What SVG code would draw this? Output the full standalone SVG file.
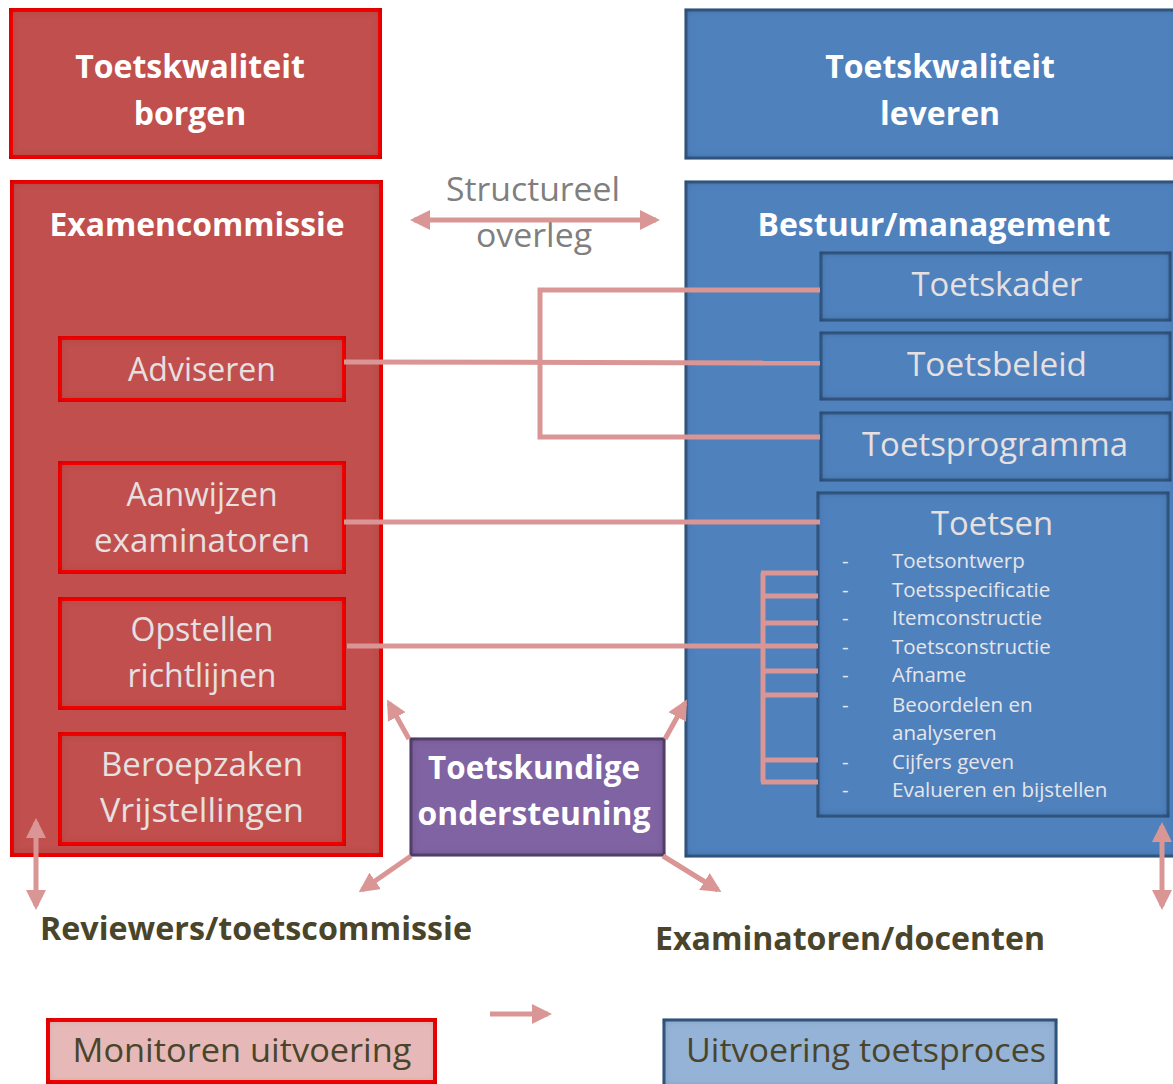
<svg xmlns="http://www.w3.org/2000/svg" width="1173" height="1084" viewBox="0 0 1173 1084">
<style>
text{font-family:"Open Sans","Liberation Sans",sans-serif;}
.red{fill:#c0504d;stroke:#ff0000;stroke-width:4;}
.blue{fill:#4f81bd;stroke:#385d8a;stroke-width:3;}
.purple{fill:#8064a2;stroke:#5c4776;stroke-width:3;}
.hdr{fill:#ffffff;font-weight:bold;font-size:32px;text-anchor:middle;}
.lbl{fill:#e6e0e0;font-size:32px;text-anchor:middle;}
.item{fill:#e6e6ea;font-size:20.5px;}
.dark{fill:#4a452a;font-weight:bold;font-size:32px;}
.con{stroke:#d99694;stroke-width:5;fill:none;}
.grey{fill:#7f7f7f;font-size:32px;text-anchor:middle;}
</style>
<defs>
<filter id="inset" x="-50%" y="-50%" width="200%" height="200%">
<feFlood flood-color="#000" flood-opacity="0.5"/>
<feComposite in2="SourceAlpha" operator="out"/>
<feGaussianBlur stdDeviation="4"/>
<feComposite in2="SourceAlpha" operator="in"/>
<feMerge><feMergeNode in="SourceGraphic"/><feMergeNode/></feMerge>
</filter>
<marker id="ah" viewBox="0 0 10 10" refX="8" refY="5" markerWidth="4" markerHeight="4" orient="auto-start-reverse" markerUnits="strokeWidth">
<path d="M0,0 L10,5 L0,10 Z" fill="#d99694"/>
</marker>
</defs>

<g id="borgen">
<rect class="red" x="11" y="10" width="369" height="147" filter="url(#inset)"/>
<text class="hdr" x="190" y="78">Toetskwaliteit</text>
<text class="hdr" x="190" y="125">borgen</text>
</g>
<g id="leveren">
<rect class="blue" x="686" y="10" width="490" height="148" filter="url(#inset)"/>
<text class="hdr" x="940" y="78">Toetskwaliteit</text>
<text class="hdr" x="940" y="125">leveren</text>
</g>

<g id="examencommissie">
<rect class="red" x="12" y="182" width="369" height="673" filter="url(#inset)"/>
<text class="hdr" x="197" y="236" textLength="295" lengthAdjust="spacingAndGlyphs">Examencommissie</text>
</g>
<g id="bestuur">
<rect class="blue" x="686" y="182" width="490" height="674" filter="url(#inset)"/>
<text class="hdr" x="934" y="236" textLength="353" lengthAdjust="spacingAndGlyphs">Bestuur/management</text>
</g>

<g id="adviseren">
<rect class="red" x="60" y="338" width="284" height="62" filter="url(#inset)"/>
<text class="lbl" x="202" y="381">Adviseren</text>
</g>
<g id="aanwijzen">
<rect class="red" x="60" y="463" width="284" height="109" filter="url(#inset)"/>
<text class="lbl" x="202" y="506">Aanwijzen</text>
<text class="lbl" x="202" y="552" textLength="216" lengthAdjust="spacingAndGlyphs">examinatoren</text>
</g>
<g id="opstellen">
<rect class="red" x="60" y="599" width="284" height="109" filter="url(#inset)"/>
<text class="lbl" x="202" y="641">Opstellen</text>
<text class="lbl" x="202" y="687">richtlijnen</text>
</g>
<g id="beroepzaken">
<rect class="red" x="60" y="734" width="284" height="110" filter="url(#inset)"/>
<text class="lbl" x="202" y="776" textLength="202" lengthAdjust="spacingAndGlyphs">Beroepzaken</text>
<text class="lbl" x="202" y="822" textLength="204" lengthAdjust="spacingAndGlyphs">Vrijstellingen</text>
</g>

<g id="toetskader">
<rect class="blue" x="821" y="253" width="349" height="67" filter="url(#inset)"/>
<text class="lbl" x="997" y="296" textLength="171" lengthAdjust="spacingAndGlyphs">Toetskader</text>
</g>
<g id="toetsbeleid">
<rect class="blue" x="821" y="333" width="349" height="66" filter="url(#inset)"/>
<text class="lbl" x="997" y="376" textLength="180" lengthAdjust="spacingAndGlyphs">Toetsbeleid</text>
</g>
<g id="toetsprogramma">
<rect class="blue" x="821" y="413" width="349" height="67" filter="url(#inset)"/>
<text class="lbl" x="995" y="456" textLength="266" lengthAdjust="spacingAndGlyphs">Toetsprogramma</text>
</g>
<g id="toetsen">
<rect class="blue" x="818" y="493" width="350" height="323" filter="url(#inset)"/>
<text class="lbl" x="992" y="535" textLength="122" lengthAdjust="spacingAndGlyphs">Toetsen</text>
<text class="item" x="842" y="568">-</text><text class="item" x="892" y="568">Toetsontwerp</text>
<text class="item" x="842" y="597">-</text><text class="item" x="892" y="597">Toetsspecificatie</text>
<text class="item" x="842" y="625">-</text><text class="item" x="892" y="625">Itemconstructie</text>
<text class="item" x="842" y="654">-</text><text class="item" x="892" y="654">Toetsconstructie</text>
<text class="item" x="842" y="682">-</text><text class="item" x="892" y="682">Afname</text>
<text class="item" x="842" y="712">-</text><text class="item" x="892" y="712">Beoordelen en</text>
<text class="item" x="892" y="740">analyseren</text>
<text class="item" x="842" y="769">-</text><text class="item" x="892" y="769">Cijfers geven</text>
<text class="item" x="842" y="797">-</text><text class="item" x="892" y="797">Evalueren en bijstellen</text>
</g>

<g id="ondersteuning">
<rect class="purple" x="411" y="739" width="253" height="116" filter="url(#inset)"/>
<text class="hdr" x="534" y="779" textLength="212" lengthAdjust="spacingAndGlyphs">Toetskundige</text>
<text class="hdr" x="534" y="825" textLength="233" lengthAdjust="spacingAndGlyphs">ondersteuning</text>
</g>

<g id="structureel">
<text class="grey" x="533" y="201" textLength="174" lengthAdjust="spacingAndGlyphs">Structureel</text>
<text class="grey" x="534" y="247" textLength="116" lengthAdjust="spacingAndGlyphs">overleg</text>
</g>

<g id="reviewers">
<text class="dark" x="40" y="940" textLength="432" lengthAdjust="spacingAndGlyphs">Reviewers/toetscommissie</text>
</g>
<g id="examinatoren">
<text class="dark" x="655" y="950" textLength="390" lengthAdjust="spacingAndGlyphs">Examinatoren/docenten</text>
</g>

<g id="monitoren">
<rect x="48" y="1020" width="387" height="62" fill="#e6b9b8" stroke="#ff0000" stroke-width="4" filter="url(#inset)"/>
<text x="242" y="1062" fill="#4a452a" font-size="32" text-anchor="middle" textLength="339" lengthAdjust="spacingAndGlyphs">Monitoren uitvoering</text>
</g>
<g id="uitvoering">
<rect x="664" y="1020" width="392" height="66" fill="#95b3d7" stroke="#385d8a" stroke-width="3" filter="url(#inset)"/>
<text x="866" y="1062" fill="#4a452a" font-size="32" text-anchor="middle" textLength="360" lengthAdjust="spacingAndGlyphs">Uitvoering toetsproces</text>
</g>

<g id="connectors">
<line class="con" x1="414" y1="220" x2="656" y2="220" marker-start="url(#ah)" marker-end="url(#ah)"/>
<line class="con" x1="344" y1="362" x2="820" y2="363"/>
<polyline class="con" points="820,290 540,290 540,437 820,437"/>
<line class="con" x1="344" y1="522" x2="820" y2="522"/>
<line class="con" x1="347" y1="646" x2="763" y2="646"/>
<line class="con" x1="763" y1="573" x2="763" y2="782"/>
<line class="con" x1="761" y1="573" x2="818" y2="573"/>
<line class="con" x1="763" y1="596" x2="818" y2="596"/>
<line class="con" x1="763" y1="623" x2="818" y2="623"/>
<line class="con" x1="763" y1="646" x2="818" y2="646"/>
<line class="con" x1="763" y1="671" x2="818" y2="671"/>
<line class="con" x1="763" y1="695" x2="818" y2="695"/>
<line class="con" x1="763" y1="760" x2="818" y2="760"/>
<line class="con" x1="761" y1="782" x2="818" y2="782"/>
<line class="con" x1="409" y1="739" x2="389" y2="703" marker-end="url(#ah)"/>
<line class="con" x1="665" y1="739" x2="685" y2="703" marker-end="url(#ah)"/>
<line class="con" x1="411" y1="856" x2="362" y2="890" marker-end="url(#ah)"/>
<line class="con" x1="663" y1="856" x2="718" y2="890" marker-end="url(#ah)"/>
<line class="con" x1="36" y1="822" x2="36" y2="906" marker-start="url(#ah)" marker-end="url(#ah)"/>
<line class="con" x1="1162" y1="826" x2="1162" y2="906" marker-start="url(#ah)" marker-end="url(#ah)"/>
<line class="con" x1="490" y1="1014" x2="548" y2="1014" marker-end="url(#ah)"/>
</g>
</svg>
